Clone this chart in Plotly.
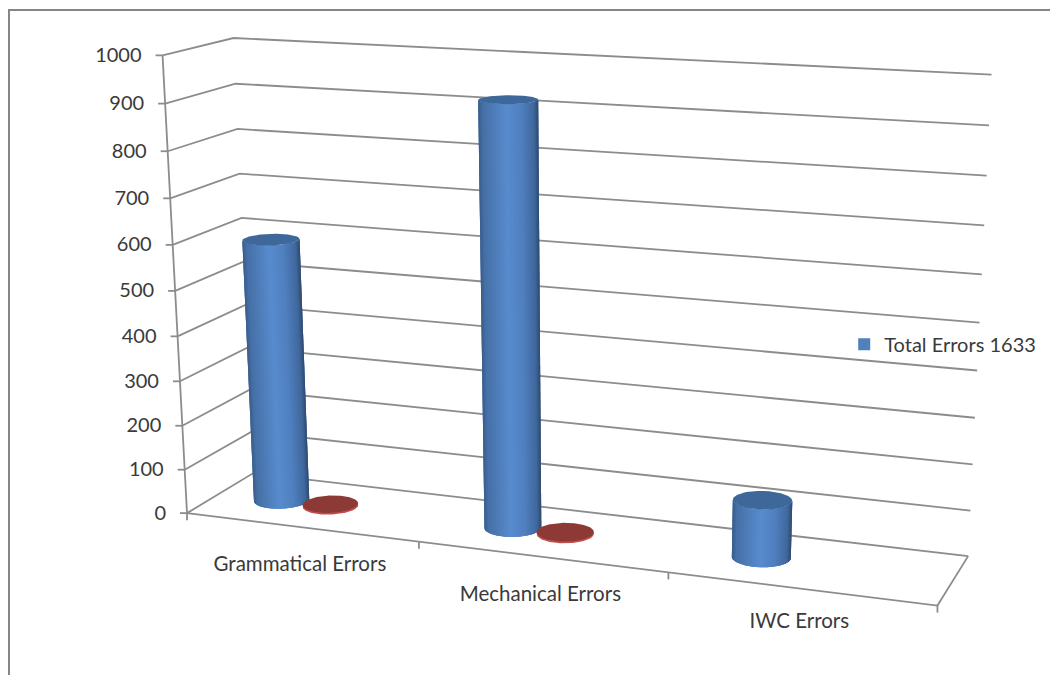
import numpy as np
import plotly.graph_objects as go

# Chart data
CATEGORIES = ["Grammatical Errors", "Mechanical Errors", "IWC Errors"]
TOTAL_ERRORS = [592, 923, 125]
MINOR_ERRORS = [4, 4, None]
SERIES_NAME = "Total Errors 1633"
VALUE_TICKS = list(range(0, 1001, 100))

# Styles
GRID = "#8c8c8c"
TEXT = "#3a3a3a"
FONT = "Lato"
BLUE_TOP = "#3e6899"
BLUE_KEY = "#4f81bd"
RED_TOP = "#8d3936"
RED_RIM = "#c0504d"

# Perspective of the plot box: box corner (category, depth, value) to page pixel
BOX_CORNERS = [(0, 0, 0), (0, 1, 0), (3, 1, 0), (3, 0, 0), (0, 0, 1000), (0, 1, 1000),
               (3, 1, 1000), (0, 0, 900), (0, 1, 900), (3, 1, 900)]
PAGE_CORNERS = [(186, 513), (254, 473.5), (968, 556), (937.5, 605.7), (163, 55.7), (233, 38),
                (991.7, 74.7), (165.7, 103.3), (235, 83.7), (989, 125.3)]


def solve_camera():
    rows = []
    for (X, Y, Z), (u, v) in zip(BOX_CORNERS, PAGE_CORNERS):
        p = [X, Y, Z / 1000, 1]
        rows.append(p + [0, 0, 0, 0] + [-u * c for c in p])
        rows.append([0, 0, 0, 0] + p + [-v * c for c in p])
    return np.linalg.svd(np.array(rows, float))[2][-1].reshape(3, 4)


CAMERA = solve_camera()


def project(x, y, z):
    x, y, z = np.broadcast_arrays(np.asarray(x, float), np.asarray(y, float), np.asarray(z, float))
    pts = np.stack([x, y, z / 1000, np.ones_like(x)])
    q = CAMERA @ pts
    return q[0] / q[2], q[1] / q[2]


fig = go.Figure()


def add_line(xs, ys, color=GRID, width=1.8):
    fig.add_trace(go.Scatter(x=xs, y=ys, mode="lines", line=dict(color=color, width=width),
                             hoverinfo="skip", showlegend=False))


def add_patch(xs, ys, color):
    fig.add_trace(go.Scatter(x=list(xs), y=list(ys), mode="lines", fill="toself", fillcolor=color,
                             line=dict(width=0, color=color), hoverinfo="skip", showlegend=False))


# Walls, floor outline and tick marks
for v in VALUE_TICKS:
    u, w = project([0, 0, 3], [0, 1, 1], [v, v, v])
    add_line(u, w)
    add_line([u[0] - 7, u[0]], [w[0], w[0]])
u, w = project([0, 0], [0, 0], [0, 1000])
add_line(u, w)
u, w = project([0, 3, 3], [0, 0, 1], [0, 0, 0])
add_line(u, w)
for c in range(4):
    u, w = project(c, 0, 0)
    add_line([float(u), float(u)], [float(w), float(w) + 7])


def shade(t):
    # Horizontal lighting across the visible side of a cylinder
    stops = [(0.0, (58, 92, 138)), (0.06, (70, 112, 166)), (0.45, (88, 140, 206)),
             (0.7, (80, 128, 192)), (0.92, (64, 104, 156)), (1.0, (46, 72, 108))]
    ts = [s[0] for s in stops]
    rgb = [np.interp(t, ts, [s[1][i] for s in stops]) for i in range(3)]
    return "rgb(%d,%d,%d)" % tuple(int(c) for c in rgb)


RX, RY, DEPTH = 0.11, 0.2, 0.50
BLUE_SHIFT, RED_SHIFT = 0.275, 0.492


def ring(cx, z, th):
    return project(cx + RX * np.cos(th), DEPTH + RY * np.sin(th), np.full_like(th, z))


def add_cylinder(cx, height):
    full = np.linspace(0, 2 * np.pi, 181)
    left = np.linspace(0.5 * np.pi, 1.5 * np.pi, 361)
    right = np.linspace(1.5 * np.pi, 2.5 * np.pi, 361)
    th_l = left[np.argmin(ring(cx, height / 2, left)[0])]
    th_r = right[np.argmax(ring(cx, height / 2, right)[0])]
    th = np.linspace(th_l, th_r, 49)
    bu, bw = ring(cx, 0, th)
    tu, tw = ring(cx, height, th)
    mu = (bu + tu) / 2
    span = mu.max() - mu.min()
    add_patch(np.r_[bu, tu[::-1]], np.r_[bw, tw[::-1]], shade(0.5))
    for i in range(len(th) - 1):
        j = min(i + 2, len(th) - 1)
        add_patch([bu[i], bu[j], tu[j], tu[i]], [bw[i], bw[j], tw[j], tw[i]],
                  shade((mu[i] - mu.min()) / span))
    lu, lw = ring(cx, height, full)
    add_patch(lu, lw, BLUE_TOP)


def add_disc(cx, height):
    full = np.linspace(0, 2 * np.pi, 181)
    u, w = ring(cx, 0, full)
    add_patch(u, w, RED_RIM)
    u, w = ring(cx, height, full)
    add_patch(u, w, RED_TOP)


for i, value in enumerate(TOTAL_ERRORS):
    add_cylinder(i + BLUE_SHIFT, value)
for i, value in enumerate(MINOR_ERRORS):
    if value is not None:
        add_disc(i + RED_SHIFT, value)

# Value and category labels
u, w = project(np.zeros(len(VALUE_TICKS)), np.zeros(len(VALUE_TICKS)), VALUE_TICKS)
fig.add_trace(go.Scatter(x=u - 21, y=w + 1.5, mode="text", text=[str(v) for v in VALUE_TICKS],
                         textposition="middle left", textfont=dict(family=FONT, size=20, color=TEXT),
                         hoverinfo="skip", showlegend=False))
cats = np.arange(len(CATEGORIES)) + 0.5
u, w = project(cats, np.zeros(len(cats)), np.zeros(len(cats)))
fig.add_trace(go.Scatter(x=u - 1, y=w + np.array([39, 39, 34]), mode="text", text=CATEGORIES,
                         textposition="middle center",
                         textfont=dict(family=FONT, size=20.5, color=TEXT),
                         hoverinfo="skip", showlegend=False))

# Legend key
fig.add_trace(go.Scatter(x=[None], y=[None], mode="markers", name=SERIES_NAME,
                         marker=dict(symbol="square", size=12, color=BLUE_KEY)))

fig.update_layout(
    width=1050, height=675, margin=dict(l=0, r=0, t=0, b=0),
    paper_bgcolor="white", plot_bgcolor="white",
    xaxis=dict(range=[0, 1050], visible=False, fixedrange=True),
    yaxis=dict(range=[675, 0], visible=False, fixedrange=True),
    legend=dict(x=0.804, y=0.49, xanchor="left", yanchor="middle", bgcolor="rgba(0,0,0,0)",
                font=dict(family=FONT, size=20, color=TEXT), itemwidth=30),
    shapes=[dict(type="line", xref="paper", yref="paper", x0=9 / 1050, x1=9 / 1050, y0=0, y1=1 - 10 / 675,
                 line=dict(color="#868686", width=2)),
            dict(type="line", xref="paper", yref="paper", x0=8 / 1050, x1=1, y0=1 - 10 / 675, y1=1 - 10 / 675,
                 line=dict(color="#868686", width=2))],
)
fig.write_html("out.html")
